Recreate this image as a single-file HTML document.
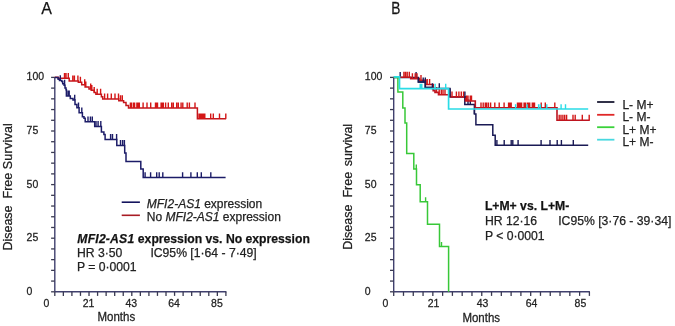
<!DOCTYPE html>
<html><head><meta charset="utf-8"><style>
html,body{margin:0;padding:0;background:#fff;width:675px;height:326px;overflow:hidden}
svg{display:block;will-change:transform}
text{font-family:"Liberation Sans",sans-serif;fill:#222;stroke:#222;stroke-width:0.25px}
.t10{font-size:10.5px}
.t12{font-size:12px}
.ta{font-size:12.2px}
.ti{font-size:12.5px}
.tm{font-size:11.5px}
.tb{font-size:12.2px;font-weight:bold;fill:#111}
.tl{font-size:16px;fill:#111}
</style></head><body>
<svg width="675" height="326" viewBox="0 0 675 326">
<text x="41.3" y="13.6" class="tl">A</text>
<text transform="translate(391.2,13.6) scale(0.86,1)" class="tl">B</text>
<line x1="54.8" y1="76.9" x2="54.8" y2="291.8" stroke="#40406e" stroke-width="1.4"/>
<line x1="54.8" y1="291.8" x2="226.4" y2="291.8" stroke="#40406e" stroke-width="1.4"/>
<line x1="51.099999999999994" y1="77.40" x2="54.8" y2="77.40" stroke="#3a3a52" stroke-width="1.3"/>
<line x1="51.099999999999994" y1="88.12" x2="54.8" y2="88.12" stroke="#3a3a52" stroke-width="1.3"/>
<line x1="51.099999999999994" y1="98.84" x2="54.8" y2="98.84" stroke="#3a3a52" stroke-width="1.3"/>
<line x1="51.099999999999994" y1="109.56" x2="54.8" y2="109.56" stroke="#3a3a52" stroke-width="1.3"/>
<line x1="51.099999999999994" y1="120.28" x2="54.8" y2="120.28" stroke="#3a3a52" stroke-width="1.3"/>
<line x1="51.099999999999994" y1="131.00" x2="54.8" y2="131.00" stroke="#3a3a52" stroke-width="1.3"/>
<line x1="51.099999999999994" y1="141.72" x2="54.8" y2="141.72" stroke="#3a3a52" stroke-width="1.3"/>
<line x1="51.099999999999994" y1="152.44" x2="54.8" y2="152.44" stroke="#3a3a52" stroke-width="1.3"/>
<line x1="51.099999999999994" y1="163.16" x2="54.8" y2="163.16" stroke="#3a3a52" stroke-width="1.3"/>
<line x1="51.099999999999994" y1="173.88" x2="54.8" y2="173.88" stroke="#3a3a52" stroke-width="1.3"/>
<line x1="51.099999999999994" y1="184.60" x2="54.8" y2="184.60" stroke="#3a3a52" stroke-width="1.3"/>
<line x1="51.099999999999994" y1="195.32" x2="54.8" y2="195.32" stroke="#3a3a52" stroke-width="1.3"/>
<line x1="51.099999999999994" y1="206.04" x2="54.8" y2="206.04" stroke="#3a3a52" stroke-width="1.3"/>
<line x1="51.099999999999994" y1="216.76" x2="54.8" y2="216.76" stroke="#3a3a52" stroke-width="1.3"/>
<line x1="51.099999999999994" y1="227.48" x2="54.8" y2="227.48" stroke="#3a3a52" stroke-width="1.3"/>
<line x1="51.099999999999994" y1="238.20" x2="54.8" y2="238.20" stroke="#3a3a52" stroke-width="1.3"/>
<line x1="51.099999999999994" y1="248.92" x2="54.8" y2="248.92" stroke="#3a3a52" stroke-width="1.3"/>
<line x1="51.099999999999994" y1="259.64" x2="54.8" y2="259.64" stroke="#3a3a52" stroke-width="1.3"/>
<line x1="51.099999999999994" y1="270.36" x2="54.8" y2="270.36" stroke="#3a3a52" stroke-width="1.3"/>
<line x1="51.099999999999994" y1="281.08" x2="54.8" y2="281.08" stroke="#3a3a52" stroke-width="1.3"/>
<line x1="51.099999999999994" y1="291.80" x2="54.8" y2="291.80" stroke="#3a3a52" stroke-width="1.3"/>
<line x1="54.80" y1="291.8" x2="54.80" y2="295.90000000000003" stroke="#3a3a52" stroke-width="1.3"/>
<line x1="63.35" y1="291.8" x2="63.35" y2="295.90000000000003" stroke="#3a3a52" stroke-width="1.3"/>
<line x1="71.91" y1="291.8" x2="71.91" y2="295.90000000000003" stroke="#3a3a52" stroke-width="1.3"/>
<line x1="80.47" y1="291.8" x2="80.47" y2="295.90000000000003" stroke="#3a3a52" stroke-width="1.3"/>
<line x1="89.02" y1="291.8" x2="89.02" y2="295.90000000000003" stroke="#3a3a52" stroke-width="1.3"/>
<line x1="97.58" y1="291.8" x2="97.58" y2="295.90000000000003" stroke="#3a3a52" stroke-width="1.3"/>
<line x1="106.13" y1="291.8" x2="106.13" y2="295.90000000000003" stroke="#3a3a52" stroke-width="1.3"/>
<line x1="114.69" y1="291.8" x2="114.69" y2="295.90000000000003" stroke="#3a3a52" stroke-width="1.3"/>
<line x1="123.24" y1="291.8" x2="123.24" y2="295.90000000000003" stroke="#3a3a52" stroke-width="1.3"/>
<line x1="131.80" y1="291.8" x2="131.80" y2="295.90000000000003" stroke="#3a3a52" stroke-width="1.3"/>
<line x1="140.35" y1="291.8" x2="140.35" y2="295.90000000000003" stroke="#3a3a52" stroke-width="1.3"/>
<line x1="148.91" y1="291.8" x2="148.91" y2="295.90000000000003" stroke="#3a3a52" stroke-width="1.3"/>
<line x1="157.46" y1="291.8" x2="157.46" y2="295.90000000000003" stroke="#3a3a52" stroke-width="1.3"/>
<line x1="166.01" y1="291.8" x2="166.01" y2="295.90000000000003" stroke="#3a3a52" stroke-width="1.3"/>
<line x1="174.57" y1="291.8" x2="174.57" y2="295.90000000000003" stroke="#3a3a52" stroke-width="1.3"/>
<line x1="183.12" y1="291.8" x2="183.12" y2="295.90000000000003" stroke="#3a3a52" stroke-width="1.3"/>
<line x1="191.68" y1="291.8" x2="191.68" y2="295.90000000000003" stroke="#3a3a52" stroke-width="1.3"/>
<line x1="200.24" y1="291.8" x2="200.24" y2="295.90000000000003" stroke="#3a3a52" stroke-width="1.3"/>
<line x1="208.79" y1="291.8" x2="208.79" y2="295.90000000000003" stroke="#3a3a52" stroke-width="1.3"/>
<line x1="217.35" y1="291.8" x2="217.35" y2="295.90000000000003" stroke="#3a3a52" stroke-width="1.3"/>
<line x1="225.90" y1="291.8" x2="225.90" y2="295.90000000000003" stroke="#3a3a52" stroke-width="1.3"/>
<line x1="393.7" y1="76.9" x2="393.7" y2="291.8" stroke="#40406e" stroke-width="1.4"/>
<line x1="393.7" y1="291.8" x2="589.9" y2="291.8" stroke="#40406e" stroke-width="1.4"/>
<line x1="390.0" y1="77.40" x2="393.7" y2="77.40" stroke="#3a3a52" stroke-width="1.3"/>
<line x1="390.0" y1="88.12" x2="393.7" y2="88.12" stroke="#3a3a52" stroke-width="1.3"/>
<line x1="390.0" y1="98.84" x2="393.7" y2="98.84" stroke="#3a3a52" stroke-width="1.3"/>
<line x1="390.0" y1="109.56" x2="393.7" y2="109.56" stroke="#3a3a52" stroke-width="1.3"/>
<line x1="390.0" y1="120.28" x2="393.7" y2="120.28" stroke="#3a3a52" stroke-width="1.3"/>
<line x1="390.0" y1="131.00" x2="393.7" y2="131.00" stroke="#3a3a52" stroke-width="1.3"/>
<line x1="390.0" y1="141.72" x2="393.7" y2="141.72" stroke="#3a3a52" stroke-width="1.3"/>
<line x1="390.0" y1="152.44" x2="393.7" y2="152.44" stroke="#3a3a52" stroke-width="1.3"/>
<line x1="390.0" y1="163.16" x2="393.7" y2="163.16" stroke="#3a3a52" stroke-width="1.3"/>
<line x1="390.0" y1="173.88" x2="393.7" y2="173.88" stroke="#3a3a52" stroke-width="1.3"/>
<line x1="390.0" y1="184.60" x2="393.7" y2="184.60" stroke="#3a3a52" stroke-width="1.3"/>
<line x1="390.0" y1="195.32" x2="393.7" y2="195.32" stroke="#3a3a52" stroke-width="1.3"/>
<line x1="390.0" y1="206.04" x2="393.7" y2="206.04" stroke="#3a3a52" stroke-width="1.3"/>
<line x1="390.0" y1="216.76" x2="393.7" y2="216.76" stroke="#3a3a52" stroke-width="1.3"/>
<line x1="390.0" y1="227.48" x2="393.7" y2="227.48" stroke="#3a3a52" stroke-width="1.3"/>
<line x1="390.0" y1="238.20" x2="393.7" y2="238.20" stroke="#3a3a52" stroke-width="1.3"/>
<line x1="390.0" y1="248.92" x2="393.7" y2="248.92" stroke="#3a3a52" stroke-width="1.3"/>
<line x1="390.0" y1="259.64" x2="393.7" y2="259.64" stroke="#3a3a52" stroke-width="1.3"/>
<line x1="390.0" y1="270.36" x2="393.7" y2="270.36" stroke="#3a3a52" stroke-width="1.3"/>
<line x1="390.0" y1="281.08" x2="393.7" y2="281.08" stroke="#3a3a52" stroke-width="1.3"/>
<line x1="390.0" y1="291.80" x2="393.7" y2="291.80" stroke="#3a3a52" stroke-width="1.3"/>
<line x1="393.70" y1="291.8" x2="393.70" y2="295.90000000000003" stroke="#3a3a52" stroke-width="1.3"/>
<line x1="403.49" y1="291.8" x2="403.49" y2="295.90000000000003" stroke="#3a3a52" stroke-width="1.3"/>
<line x1="413.27" y1="291.8" x2="413.27" y2="295.90000000000003" stroke="#3a3a52" stroke-width="1.3"/>
<line x1="423.06" y1="291.8" x2="423.06" y2="295.90000000000003" stroke="#3a3a52" stroke-width="1.3"/>
<line x1="432.84" y1="291.8" x2="432.84" y2="295.90000000000003" stroke="#3a3a52" stroke-width="1.3"/>
<line x1="442.62" y1="291.8" x2="442.62" y2="295.90000000000003" stroke="#3a3a52" stroke-width="1.3"/>
<line x1="452.41" y1="291.8" x2="452.41" y2="295.90000000000003" stroke="#3a3a52" stroke-width="1.3"/>
<line x1="462.19" y1="291.8" x2="462.19" y2="295.90000000000003" stroke="#3a3a52" stroke-width="1.3"/>
<line x1="471.98" y1="291.8" x2="471.98" y2="295.90000000000003" stroke="#3a3a52" stroke-width="1.3"/>
<line x1="481.76" y1="291.8" x2="481.76" y2="295.90000000000003" stroke="#3a3a52" stroke-width="1.3"/>
<line x1="491.55" y1="291.8" x2="491.55" y2="295.90000000000003" stroke="#3a3a52" stroke-width="1.3"/>
<line x1="501.33" y1="291.8" x2="501.33" y2="295.90000000000003" stroke="#3a3a52" stroke-width="1.3"/>
<line x1="511.12" y1="291.8" x2="511.12" y2="295.90000000000003" stroke="#3a3a52" stroke-width="1.3"/>
<line x1="520.90" y1="291.8" x2="520.90" y2="295.90000000000003" stroke="#3a3a52" stroke-width="1.3"/>
<line x1="530.69" y1="291.8" x2="530.69" y2="295.90000000000003" stroke="#3a3a52" stroke-width="1.3"/>
<line x1="540.48" y1="291.8" x2="540.48" y2="295.90000000000003" stroke="#3a3a52" stroke-width="1.3"/>
<line x1="550.26" y1="291.8" x2="550.26" y2="295.90000000000003" stroke="#3a3a52" stroke-width="1.3"/>
<line x1="560.04" y1="291.8" x2="560.04" y2="295.90000000000003" stroke="#3a3a52" stroke-width="1.3"/>
<line x1="569.83" y1="291.8" x2="569.83" y2="295.90000000000003" stroke="#3a3a52" stroke-width="1.3"/>
<line x1="579.62" y1="291.8" x2="579.62" y2="295.90000000000003" stroke="#3a3a52" stroke-width="1.3"/>
<line x1="589.40" y1="291.8" x2="589.40" y2="295.90000000000003" stroke="#3a3a52" stroke-width="1.3"/>
<text transform="translate(26.6,80.30) scale(1,1.07)" class="t10">100</text>
<text transform="translate(26.6,133.90) scale(1,1.07)" class="t10">75</text>
<text transform="translate(26.6,187.50) scale(1,1.07)" class="t10">50</text>
<text transform="translate(26.6,241.10) scale(1,1.07)" class="t10">25</text>
<text transform="translate(26.6,294.70) scale(1,1.07)" class="t10">0</text>
<text transform="translate(364.8,80.30) scale(1,1.07)" class="t10">100</text>
<text transform="translate(364.8,133.90) scale(1,1.07)" class="t10">75</text>
<text transform="translate(364.8,187.50) scale(1,1.07)" class="t10">50</text>
<text transform="translate(364.8,241.10) scale(1,1.07)" class="t10">25</text>
<text transform="translate(364.8,294.70) scale(1,1.07)" class="t10">0</text>
<text transform="translate(46.50,306.6) scale(1,1.07)" class="t10" text-anchor="middle">0</text>
<text transform="translate(88.58,306.6) scale(1,1.07)" class="t10" text-anchor="middle">21</text>
<text transform="translate(131.35,306.6) scale(1,1.07)" class="t10" text-anchor="middle">43</text>
<text transform="translate(174.12,306.6) scale(1,1.07)" class="t10" text-anchor="middle">64</text>
<text transform="translate(216.90,306.6) scale(1,1.07)" class="t10" text-anchor="middle">85</text>
<text transform="translate(385.40,306.6) scale(1,1.07)" class="t10" text-anchor="middle">0</text>
<text transform="translate(433.62,306.6) scale(1,1.07)" class="t10" text-anchor="middle">21</text>
<text transform="translate(482.55,306.6) scale(1,1.07)" class="t10" text-anchor="middle">43</text>
<text transform="translate(531.47,306.6) scale(1,1.07)" class="t10" text-anchor="middle">64</text>
<text transform="translate(580.40,306.6) scale(1,1.07)" class="t10" text-anchor="middle">85</text>
<text transform="translate(97.5,320.9) scale(1,1.07)" class="tm">Months</text>
<text transform="translate(462.4,321.5) scale(1,1.07)" class="tm">Months</text>
<text transform="translate(12.2,250.6) rotate(-90)" class="ti" xml:space="preserve">Disease  Free <tspan letter-spacing="0.25">Survival</tspan></text>
<text transform="translate(351.6,249.7) rotate(-90)" class="ti" xml:space="preserve">Disease  Free <tspan dx="2.2">survival</tspan></text>
<!-- legend left -->
<line x1="121.7" y1="202.2" x2="139.9" y2="202.2" stroke="#14145e" stroke-width="1.6"/>
<line x1="121.7" y1="215.3" x2="139.9" y2="215.3" stroke="#a81c24" stroke-width="1.6"/>
<text x="146.8" y="208.3" class="t12" xml:space="preserve"><tspan font-style="italic">MFI2-AS1</tspan> expression</text>
<text x="146.8" y="220.6" class="t12" xml:space="preserve">No <tspan font-style="italic">MFI2-AS1</tspan> expression</text>
<!-- annotation left -->
<text x="77.3" y="243" class="tb" xml:space="preserve"><tspan font-style="italic" letter-spacing="0.2">MFI2-AS1</tspan> expression vs. No expression</text>
<text x="76.9" y="257" class="ta">HR 3·50</text>
<text x="150.4" y="257" class="ta">IC95% [1·64 - 7·49]</text>
<text x="76.9" y="271.2" class="ta">P = 0·0001</text>
<!-- legend right -->
<line x1="597.1" y1="102" x2="614.4" y2="102" stroke="#1a1a34" stroke-width="1.8"/>
<line x1="597.1" y1="114.8" x2="614.4" y2="114.8" stroke="#e02828" stroke-width="1.8"/>
<line x1="597.1" y1="127.2" x2="614.4" y2="127.2" stroke="#3ad23a" stroke-width="1.8"/>
<line x1="597.1" y1="139.7" x2="614.4" y2="139.7" stroke="#48d8e0" stroke-width="1.8"/>
<text x="622.4" y="108.6" class="t12">L- M+</text>
<text x="622.4" y="121.2" class="t12">L- M-</text>
<text x="622.4" y="133.8" class="t12">L+ M+</text>
<text x="622.4" y="146.4" class="t12">L+ M-</text>
<!-- annotation right -->
<text x="484.9" y="210.2" class="tb">L+M+ vs. L+M-</text>
<text x="484.9" y="224.9" class="ta">HR 12·16</text>
<text x="558.2" y="224.9" class="ta">IC95% [3·76 - 39·34]</text>
<text x="484.9" y="239.5" class="ta">P &lt; 0·0001</text>
<path d="M54.8,77.2 L58.1,77.2 L58.1,78.3 L69.2,78.3 L69.2,81.0 L78.3,81.0 L78.3,82.2 L81.7,82.2 L81.7,84.7 L85.1,84.7 L85.1,86.9 L89.0,86.9 L89.0,89.0 L91.2,89.0 L91.2,90.3 L94.2,90.3 L94.2,92.4 L95.9,92.4 L95.9,94.2 L101.4,94.2 L101.4,96.7 L102.7,96.7 L102.7,98.9 L118.8,98.9 L118.8,100.7 L123.6,100.7 L123.6,102.5 L126.0,102.5 L126.0,105.6 L128.5,105.6 L128.5,108.0 L197.4,108.0 L197.4,118.8 L226.1,118.8" fill="none" stroke="#c4161c" stroke-width="1.5"/>
<path d="M64.5,78.3 V72.9 M66.0,78.3 V72.9 M68.3,78.3 V72.9 M72.8,81.0 V75.6 M74.4,81.0 V75.6 M77.9,81.0 V75.6 M80.4,82.2 V76.8 M84.7,84.7 V79.3 M85.8,86.9 V81.5 M90.7,89.0 V83.6 M91.8,90.3 V84.9 M94.2,92.4 V87.0 M97.2,94.2 V88.8 M100.6,94.2 V88.8 M104.6,98.9 V93.5 M107.6,98.9 V93.5 M111.3,98.9 V93.5 M115.0,98.9 V93.5 M118.5,98.9 V93.5 M120.5,100.7 V95.3 M122.3,100.7 V95.3 M130.4,108.0 V102.6 M131.5,108.0 V102.6 M133.5,108.0 V102.6 M134.6,108.0 V102.6 M136.9,108.0 V102.6 M138.0,108.0 V102.6 M139.3,108.0 V102.6 M143.1,108.0 V102.6 M147.0,108.0 V102.6 M150.7,108.0 V102.6 M155.5,108.0 V102.6 M156.5,108.0 V102.6 M157.5,108.0 V102.6 M161.1,108.0 V102.6 M162.2,108.0 V102.6 M163.3,108.0 V102.6 M165.6,108.0 V102.6 M168.3,108.0 V102.6 M171.7,108.0 V102.6 M173.3,108.0 V102.6 M176.7,108.0 V102.6 M178.3,108.0 V102.6 M181.1,108.0 V102.6 M182.8,108.0 V102.6 M187.2,108.0 V102.6 M189.4,108.0 V102.6 M195.0,108.0 V102.6 M199.0,118.8 V113.4 M200.0,118.8 V113.4 M201.1,118.8 V113.4 M202.5,118.8 V113.4 M203.7,118.8 V113.4 M204.8,118.8 V113.4 M210.7,118.8 V113.4 M213.3,118.8 V113.4 M219.5,118.8 V113.4 M225.8,118.8 V113.4" fill="none" stroke="#d41616" stroke-width="1.4"/>
<path d="M54.8,77.4 L58.1,77.4 L58.1,79.2 L59.5,79.2 L59.5,80.6 L61.8,80.6 L61.8,81.5 L62.7,81.5 L62.7,83.8 L64.1,83.8 L64.1,85.2 L65.0,85.2 L65.0,87.9 L66.0,87.9 L66.0,89.8 L66.4,89.8 L66.4,96.0 L70.3,96.0 L70.3,98.5 L73.0,98.5 L73.0,100.1 L75.0,100.1 L75.0,104.5 L76.9,104.5 L76.9,107.8 L79.1,107.8 L79.1,112.8 L82.4,112.8 L82.4,116.7 L84.0,116.7 L84.0,118.3 L85.2,118.3 L85.2,121.8 L94.7,121.8 L94.7,126.5 L101.4,126.5 L101.4,132.0 L103.9,132.0 L103.9,134.5 L105.1,134.5 L105.1,139.4 L116.8,139.4 L116.8,145.5 L124.7,145.5 L124.7,153.1 L126.0,153.1 L126.0,161.4 L140.8,161.4 L140.8,169.0 L143.2,169.0 L143.2,177.6 L225.6,177.6" fill="none" stroke="#1c1c68" stroke-width="1.5"/>
<path d="M60.3,80.6 V75.2 M64.6,85.2 V79.8 M68.0,96.0 V90.6 M69.2,96.0 V90.6 M74.7,100.1 V94.7 M78.5,107.8 V102.4 M81.8,112.8 V107.4 M88.0,121.8 V116.4 M90.4,121.8 V116.4 M92.3,121.8 V116.4 M96.0,126.5 V121.1 M98.1,126.5 V121.1 M100.8,126.5 V121.1 M110.6,139.4 V134.0 M112.5,139.4 V134.0 M116.6,139.4 V134.0 M120.5,145.5 V140.1 M122.6,145.5 V140.1 M124.4,145.5 V140.1 M145.1,177.6 V172.2 M150.6,177.6 V172.2 M156.7,177.6 V172.2 M159.2,177.6 V172.2 M162.8,177.6 V172.2 M182.6,177.6 V172.2 M190.9,177.6 V172.2 M197.3,177.6 V172.2 M201.3,177.6 V172.2 M210.8,177.6 V172.2" fill="none" stroke="#1c1c68" stroke-width="1.4"/>
<path d="M393.7,77.4 L418.4,77.4 L418.4,82.0 L425.3,82.0 L425.3,87.4 L432.5,87.4 L432.5,88.6 L450.0,88.6 L450.0,96.9 L464.8,96.9 L464.8,104.6 L474.4,104.6 L474.4,114.0 L475.9,114.0 L475.9,124.8 L492.8,124.8 L492.8,135.2 L495.2,135.2 L495.2,145.3 L588.2,145.3" fill="none" stroke="#1a1a55" stroke-width="1.5"/>
<path d="M400.2,77.4 V72.0 M416.1,77.4 V72.0 M439.3,88.6 V83.2 M468.0,104.6 V99.2 M470.3,104.6 V99.2 M474.4,114.0 V108.6 M496.9,145.3 V139.9 M504.2,145.3 V139.9 M511.2,145.3 V139.9 M512.8,145.3 V139.9 M518.1,145.3 V139.9 M541.1,145.3 V139.9 M550.0,145.3 V139.9 M557.2,145.3 V139.9 M561.4,145.3 V139.9 M573.3,145.3 V139.9" fill="none" stroke="#1a1a55" stroke-width="1.4"/>
<path d="M393.7,77.2 L410.7,77.2 L410.7,78.6 L419.5,78.6 L419.5,80.3 L426.0,80.3 L426.0,84.5 L433.2,84.5 L433.2,90.6 L435.0,90.6 L435.0,92.4 L438.5,92.4 L438.5,94.7 L450.3,94.7 L450.3,96.9 L465.5,96.9 L465.5,101.0 L475.3,101.0 L475.3,107.8 L557.0,107.8 L557.0,120.2 L589.8,120.2" fill="none" stroke="#bc1420" stroke-width="1.6"/>
<path d="M403.9,77.2 V71.8 M405.5,77.2 V71.8 M407.2,77.2 V71.8 M409.3,77.2 V71.8 M412.4,78.6 V73.2 M415.2,78.6 V73.2 M417.0,78.6 V73.2 M421.0,80.3 V74.9 M427.2,84.5 V79.1 M429.6,84.5 V79.1 M436.5,92.4 V87.0 M439.2,94.7 V89.3 M441.3,94.7 V89.3 M443.0,94.7 V89.3 M445.0,94.7 V89.3 M452.0,96.9 V91.5 M456.4,96.9 V91.5 M458.9,96.9 V91.5 M461.3,96.9 V91.5 M463.6,96.9 V91.5 M466.5,101.0 V95.6 M468.0,101.0 V95.6 M470.3,101.0 V95.6 M471.5,101.0 V95.6 M481.0,107.8 V102.4 M483.2,107.8 V102.4 M485.3,107.8 V102.4 M486.6,107.8 V102.4 M488.4,107.8 V102.4 M490.6,107.8 V102.4 M494.8,107.8 V102.4 M499.2,107.8 V102.4 M504.1,107.8 V102.4 M508.6,107.8 V102.4 M509.8,107.8 V102.4 M511.2,107.8 V102.4 M517.5,107.8 V102.4 M518.6,107.8 V102.4 M519.7,107.8 V102.4 M520.6,107.8 V102.4 M521.6,107.8 V102.4 M524.1,107.8 V102.4 M525.5,107.8 V102.4 M527.5,107.8 V102.4 M528.6,107.8 V102.4 M529.7,107.8 V102.4 M532.3,107.8 V102.4 M533.4,107.8 V102.4 M534.5,107.8 V102.4 M541.2,107.8 V102.4 M545.3,107.8 V102.4 M554.8,107.8 V102.4 M559.2,120.2 V114.8 M561.0,120.2 V114.8 M562.9,120.2 V114.8 M564.7,120.2 V114.8 M566.6,120.2 V114.8 M573.0,120.2 V114.8 M575.2,120.2 V114.8 M582.3,120.2 V114.8 M589.2,120.2 V114.8" fill="none" stroke="#d21818" stroke-width="1.4"/>
<path d="M418.4,77.4 V82 H425.3 V87.4 H432.5 V88.6 H440" fill="none" stroke="#1a1a55" stroke-width="1.5"/>
<path d="M423.2,82 V77.4 M425.3,82 V77.4 M432.4,88 V83.2 M464.9,98 V91.6 M450,88.6 V96.9" fill="none" stroke="#1a1a55" stroke-width="1.4"/>
<path d="M393.7,77.4 L397.9,77.4 L397.9,92.0 L402.8,92.0 L402.8,108.0 L405.0,108.0 L405.0,123.0 L406.7,123.0 L406.7,153.4 L413.8,153.4 L413.8,169.0 L416.5,169.0 L416.5,184.8 L420.2,184.8 L420.2,201.8 L427.5,201.8 L427.5,224.2 L439.5,224.2 L439.5,246.6 L448.6,246.6 L448.6,291.8 L448.6,291.8" fill="none" stroke="#38c838" stroke-width="1.5"/>
<path d="M416.3,169.0 V164.4 M425.6,201.8 V197.2 M441.5,246.6 V242.0" fill="none" stroke="#38c838" stroke-width="1.4"/>
<path d="M393.7,76.9 L399.5,76.9 L399.5,88.6 L448.6,88.6 L448.6,109.0 L588.2,109.0" fill="none" stroke="#2adce6" stroke-width="1.7"/>
<path d="M420.2,88.6 V83.8 M421.0,88.6 V83.8 M421.8,88.6 V83.8 M435.1,88.6 V83.8 M445.7,88.6 V83.8 M515.6,109.0 V104.2 M527.1,109.0 V104.2 M538.6,109.0 V104.2 M540.4,109.0 V104.2 M546.8,109.0 V104.2 M561.1,109.0 V104.2 M565.5,109.0 V104.2" fill="none" stroke="#2adce6" stroke-width="1.4"/>
</svg>
</body></html>
